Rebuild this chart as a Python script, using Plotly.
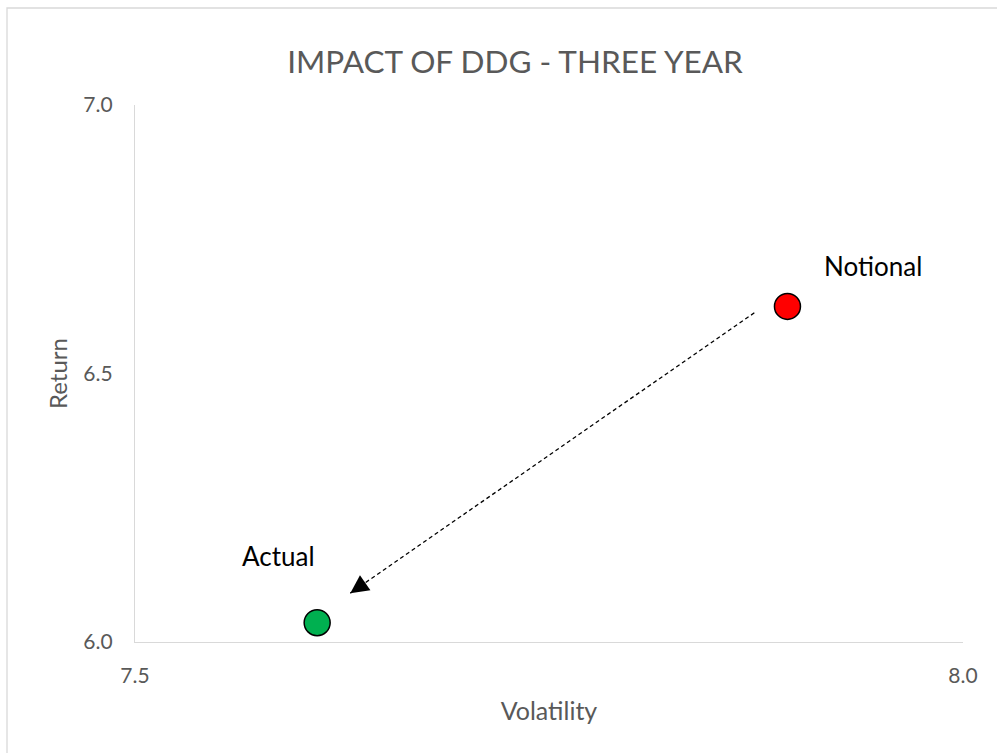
import plotly.graph_objects as go

# Data
names = ["Actual", "Notional"]
volatility = [7.61, 7.894]
returns = [6.036, 6.625]
colors = ["#00b050", "#ff0000"]
x_ticks = [7.5, 8.0]
y_ticks = [6.0, 6.5, 7.0]
arrow_x = [7.874, 7.630]
arrow_y = [6.613, 6.091]

FONT = "Lato"
GRAY = "#595959"

fig = go.Figure()

# dashed arrow shaft
fig.add_trace(go.Scatter(
    x=arrow_x, y=arrow_y, mode="lines",
    line=dict(color="black", width=1.3, dash="4px,3px"),
    hoverinfo="skip", showlegend=False, cliponaxis=False,
))
# arrow head
fig.add_annotation(x=arrow_x[1], y=arrow_y[1], ax=10, ay=-7, axref="pixel", ayref="pixel",
                   showarrow=True, arrowhead=2, arrowsize=2.6, arrowwidth=1.4,
                   arrowcolor="black", standoff=0, text="")

fig.add_trace(go.Scatter(
    x=volatility, y=returns, mode="markers",
    marker=dict(size=26, color=colors, line=dict(color="black", width=1.5)),
    showlegend=False, cliponaxis=False,
))

label_shift = {"Actual": (-39, 67), "Notional": (86, 40)}
for n, xv, yv in zip(names, volatility, returns):
    dx, dy = label_shift[n]
    fig.add_annotation(x=xv, y=yv, text=n, showarrow=False,
                       xshift=dx, yshift=dy,
                       font=dict(family=FONT, size=26, color="black"))

# chart border
fig.add_shape(type="rect", xref="paper", yref="paper",
              x0=-0.1546, x1=1.2, y0=-0.4, y1=1.1806,
              line=dict(color="#d9d9d9", width=1.3), layer="below")

fig.update_layout(
    width=997, height=753,
    margin=dict(l=135, r=34, t=105, b=111),
    paper_bgcolor="white", plot_bgcolor="white",
    font=dict(family=FONT, color=GRAY),
    title=dict(text="IMPACT OF DDG - THREE YEAR", x=0.459, xref="paper",
               xanchor="center", y=1 - 62 / 753, yanchor="middle",
               font=dict(family=FONT, size=31.5, color=GRAY)),
    xaxis=dict(range=[7.5, 8.0], tickvals=x_ticks, tickformat=".1f",
               showgrid=False, zeroline=False, showline=True,
               linecolor="#d9d9d9", linewidth=1.3, ticks="",
               ticklabelstandoff=15,
               tickfont=dict(size=21, color=GRAY),
               title=dict(text="Volatility", font=dict(size=25, color=GRAY), standoff=16)),
    yaxis=dict(range=[6.0, 7.0], tickvals=y_ticks, tickformat=".1f",
               showgrid=False, zeroline=False, showline=True,
               linecolor="#d9d9d9", linewidth=1.3, ticks="",
               ticklabelstandoff=17,
               tickfont=dict(size=21, color=GRAY),
               title=dict(text="Return", font=dict(size=24, color=GRAY), standoff=8)),
)

fig.write_html("out.html")
